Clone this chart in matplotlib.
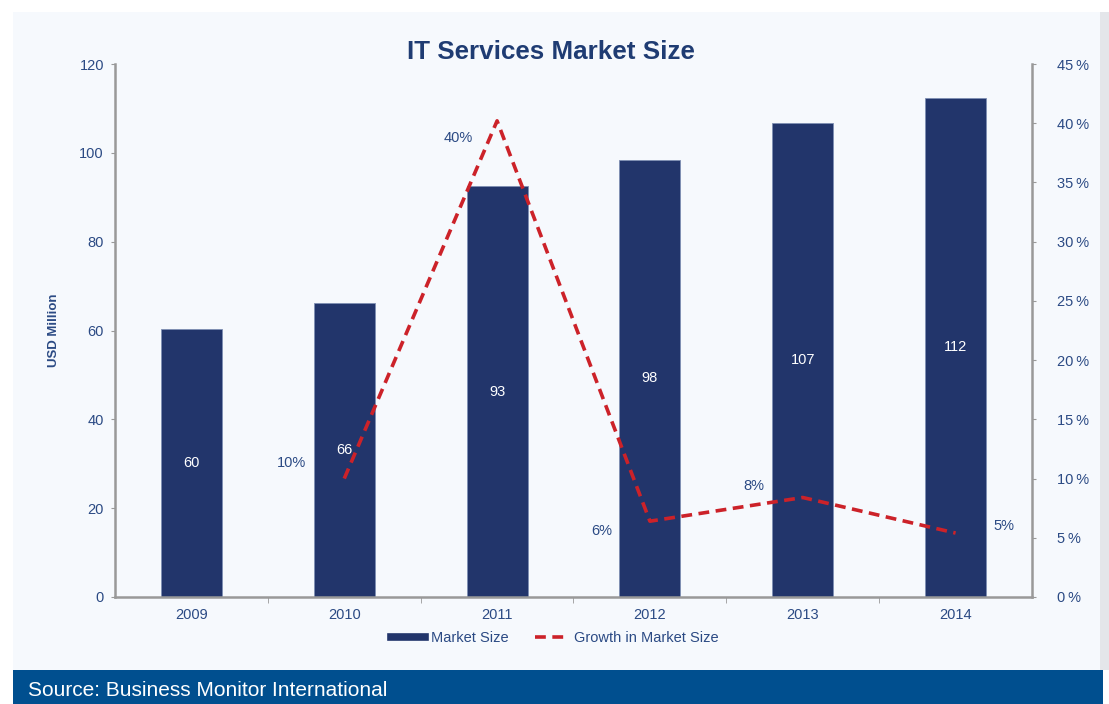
import matplotlib
matplotlib.use("Agg")
import matplotlib.pyplot as plt
from matplotlib.patches import Rectangle
from matplotlib.lines import Line2D
from matplotlib.ticker import FuncFormatter

plt.rcParams['font.family'] = ['Liberation Sans', 'DejaVu Sans']

years = ['2009', '2010', '2011', '2012', '2013', '2014']
market_size = [60.3, 66.2, 92.5, 98.4, 106.7, 112.4]
market_labels = ['60', '66', '93', '98', '107', '112']
growth_years = ['2010', '2011', '2012', '2013', '2014']
growth = [10.0, 40.2, 6.4, 8.4, 5.4]
growth_labels = ['10%', '40%', '6%', '8%', '5%']

navy = '#22356b'
txt = '#2b4a84'
red = '#cc2229'
W, H = 1109, 704

fig = plt.figure(figsize=(W / 100, H / 100), dpi=100)
fig.patch.set_facecolor('white')

# panel, shadow and source banner
fig.patches.append(Rectangle((13 / W, 34 / H), 1096 / W, 658 / H, transform=fig.transFigure,
                             facecolor='#e4e6ea', edgecolor='none', zorder=-3))
fig.patches.append(Rectangle((13 / W, 34 / H), 1087 / W, 658 / H, transform=fig.transFigure,
                             facecolor='#f6f9fd', edgecolor='none', zorder=-2))
fig.patches.append(Rectangle((13 / W, 0), 1090 / W, 34 / H, transform=fig.transFigure,
                             facecolor='#004f8f', edgecolor='none', zorder=-1))
fig.text(28 / W, 13 / H, 'Source: Business Monitor International', color='white',
         fontsize=15, va='center', ha='left')

ax = fig.add_axes([115 / W, 107 / H, 917 / W, 533 / H])
ax.set_facecolor('none')
x = list(range(len(years)))
ax.bar(x, market_size, width=0.4, color=navy, edgecolor='#7f8fb3', linewidth=0.6, zorder=2)
for xi, v, lab in zip(x, market_size, market_labels):
    ax.text(xi, v / 2, lab, color='white', ha='center', va='center', fontsize=10.5, zorder=4)

ax.set_xlim(-0.5, len(years) - 0.5)
ax.set_ylim(0, 120)
ax.set_yticks(range(0, 121, 20))
ax.set_xticks(x)
ax.set_xticklabels(years)
ax.set_xticks([i + 0.5 for i in x[:-1]], minor=True)
ax.tick_params(axis='x', which='major', length=0, pad=8, labelcolor=txt, labelsize=10.5)
ax.tick_params(axis='x', which='minor', length=4, color='#999999', direction='out')
ax.tick_params(axis='y', length=3, color='#999999', pad=5, labelcolor=txt, labelsize=10.5)
for s in ['top', 'right']:
    ax.spines[s].set_visible(False)
for s in ['left', 'bottom']:
    ax.spines[s].set_color('#999999')
    ax.spines[s].set_linewidth(1.8)
ax.set_ylabel('USD Million', color=txt, fontsize=9.5, fontweight='bold', labelpad=14)

ax2 = ax.twinx()
ax2.set_ylim(0, 45)
ax2.set_yticks(range(0, 46, 5))
ax2.yaxis.set_major_formatter(FuncFormatter(lambda v, p: f'{int(v)}\u2009%'))
ax2.tick_params(axis='y', length=3, color='#999999', pad=15, labelcolor=txt, labelsize=10.5)
for s in ['top', 'left', 'bottom']:
    ax2.spines[s].set_visible(False)
ax2.spines['right'].set_color('#999999')
ax2.spines['right'].set_linewidth(1.8)

gx = [years.index(y) for y in growth_years]
ax2.plot(gx, growth, color=red, linewidth=2.6, linestyle=(0, (3, 1.8)), zorder=3)
offsets = [(-38, 11), (-28, -12), (-35, -7), (-35, 8), (35, 5)]
for xi, v, lab, off in zip(gx, growth, growth_labels, offsets):
    ax2.annotate(lab, (xi, v), xytext=off, textcoords='offset points', color=txt,
                 fontsize=10.5, ha='center', va='center')

fig.text(551 / W, 652 / H, 'IT Services Market Size', color='#1f3c73', fontsize=18.7,
         fontweight='bold', ha='center', va='center')

handles = [Line2D([0], [0], color=navy, linewidth=5.5),
           Line2D([0], [0], color=red, linewidth=2.6, linestyle=(0, (3, 1.8)))]
fig.legend(handles, ['Market Size', 'Growth in Market Size'], loc='center',
           bbox_to_anchor=(555 / W, 66 / H), ncol=2, frameon=False, fontsize=10.5,
           labelcolor=txt, handlelength=2.3, handletextpad=0.4, columnspacing=1.8)

fig.savefig('out.png', dpi=100, facecolor=fig.get_facecolor())
